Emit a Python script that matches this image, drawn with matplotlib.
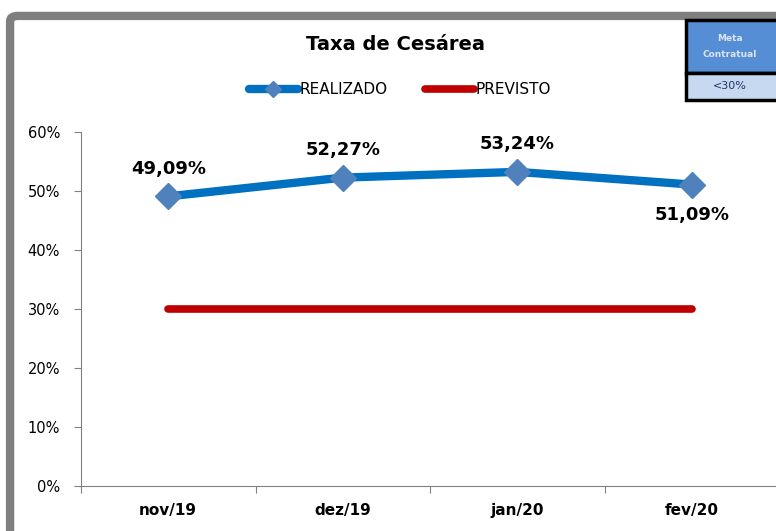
import matplotlib.pyplot as plt
from matplotlib.patches import FancyBboxPatch, Rectangle
from matplotlib.ticker import FuncFormatter

# Data
meses = ['nov/19', 'dez/19', 'jan/20', 'fev/20']
realizado = [49.09, 52.27, 53.24, 51.09]
previsto = [30, 30, 30, 30]
rotulos = ['49,09%', '52,27%', '53,24%', '51,09%']
y_ticks = [0, 10, 20, 30, 40, 50, 60]

fig = plt.figure(figsize=(7.76, 5.31), dpi=100)
fig.patch.set_facecolor('white')

# gray rounded frame
frame = FancyBboxPatch((0.013, -0.05), 1.05, 1.02, boxstyle='round,pad=0,rounding_size=0.01',
                       transform=fig.transFigure, facecolor='none', edgecolor='#7f7f7f',
                       linewidth=6, zorder=-1)
fig.patches.append(frame)

ax = fig.add_axes([81 / 776, 1 - 486 / 531, 698 / 776, 354 / 531])
ax.set_facecolor('none')
x = range(len(meses))

ax.plot(x, previsto, color='#C00000', linewidth=5.5, solid_capstyle='round', label='PREVISTO', zorder=2)
ax.plot(x, realizado, color='#0070C0', linewidth=6, solid_capstyle='round', marker='D',
        markersize=13, markerfacecolor='#4F81BD', markeredgecolor='#4F81BD', label='REALIZADO', zorder=3)

for i, (v, t) in enumerate(zip(realizado, rotulos)):
    dy = -22 if i == len(realizado) - 1 else 20
    ax.annotate(t, (i, v), xytext=(0, dy), textcoords='offset points', ha='center',
                va='center', fontsize=13, fontweight='bold', color='black')

ax.set_xlim(-0.5, len(meses) - 0.5)
ax.set_ylim(0, 60)
ax.set_yticks(y_ticks)
ax.yaxis.set_major_formatter(FuncFormatter(lambda v, p: f'{int(v)}%'))
ax.set_xticks([i - 0.5 for i in range(len(meses) + 1)])
ax.set_xticklabels([])
ax.set_xticks(list(x), minor=True)
ax.set_xticklabels(meses, minor=True, fontsize=11, fontweight='bold')
ax.tick_params(axis='x', which='minor', length=0, pad=12)
ax.tick_params(axis='x', which='major', length=5, direction='out', color='#808080')
ax.tick_params(axis='y', length=5, direction='out', color='#808080', labelsize=10.5, pad=10)
for s in ['top', 'right']:
    ax.spines[s].set_visible(False)
for s in ['left', 'bottom']:
    ax.spines[s].set_color('#808080')

fig.text(395 / 776, 1 - 45 / 531, 'Taxa de Cesárea', ha='center', va='center',
         fontsize=14, fontweight='bold')

h, l = ax.get_legend_handles_labels()
fig.legend(h[::-1], l[::-1], loc='center', bbox_to_anchor=(400 / 776, 1 - 90 / 531), ncol=2,
           frameon=False, fontsize=11, handlelength=3.2, handletextpad=0.1, columnspacing=2.5,
           markerscale=0.6)

# Meta Contratual box
bx0 = 686 / 776
ax_box = fig.add_axes([bx0, 1 - 100 / 531, 1 - bx0 + 0.01, 80 / 531])
ax_box.set_xlim(0, 1)
ax_box.set_ylim(0, 1)
ax_box.axis('off')
ax_box.add_patch(Rectangle((0, 0.34), 1, 0.66, facecolor='#558ED5', edgecolor='black', linewidth=2.5,
                           clip_on=False))
ax_box.add_patch(Rectangle((0, 0), 1, 0.34, facecolor='#C6D9F1', edgecolor='black', linewidth=2.5,
                           clip_on=False))
ax_box.text(0.45, 0.67, 'Meta\nContratual', ha='center', va='center', fontsize=6.5,
            color='#DCE3F2', fontweight='bold', linespacing=1.9)
ax_box.text(0.45, 0.17, '<30%', ha='center', va='center', fontsize=8, color='#1F3864')

fig.savefig('out.png', dpi=100)
